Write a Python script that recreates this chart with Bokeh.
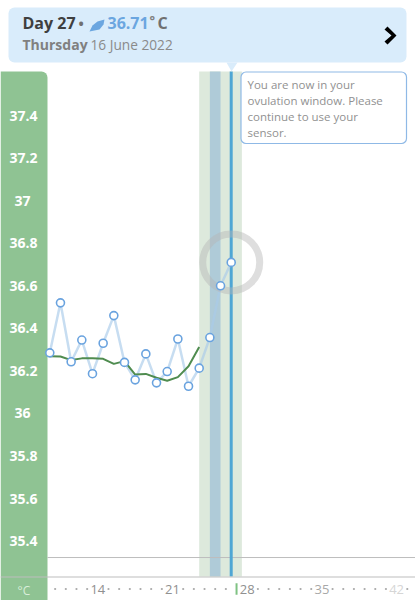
from bokeh.embed import file_html
from bokeh.resources import INLINE
from bokeh.plotting import figure
from bokeh.models import (BoxAnnotation, FixedTicker, Label,
                          LinearAxis, PolyAnnotation, Range1d)
from bokeh.core.properties import value

FONT = "Open Sans"
days = list(range(10, 28))
temps = [36.285, 36.52, 36.243, 36.345, 36.187, 36.33, 36.46, 36.24, 36.158,
         36.28, 36.144, 36.197, 36.35, 36.128, 36.213, 36.357, 36.60, 36.71]
trend_days = list(range(10, 25))
trend = [36.269, 36.268, 36.251, 36.259, 36.259, 36.257, 36.233, 36.246, 36.183,
         36.186, 36.168, 36.154, 36.171, 36.222, 36.312]
y_ticks = [35.4, 35.6, 35.8, 36.2, 36.4, 36.6, 36.8, 37.2, 37.4]
y_labels = ["35.4", "35.6", "35.8", "36.2", "36.4", "36.6", "36.8", "37.2", "37.4"]
y_whole_ticks = [36, 37]
y_whole_labels = ["36", "37"]
x_label_days = [14, 21, 28, 35, 42]
x_dot_days = [d for d in range(10, 44) if d not in x_label_days and d != 27]
fertile = (24, 28)
peak = (25, 26)
today = 27
floor_t = 35.234
limit_t = 35.323
row_t = 35.175
plot_top = 37.6075
panel_edge = 9.783

p = figure(width=415, height=600, output_backend="svg", toolbar_location=None,
           x_axis_type=None, y_axis_type=None,
           x_range=Range1d(5.38, 44.27), y_range=Range1d(35.121, 37.941),
           min_border_left=0, min_border_right=0, min_border_top=0, min_border_bottom=0)
p.outline_line_color = None
p.grid.visible = False
p.background_fill_color = "white"
p.border_fill_color = "white"

# left panel
p.add_layout(BoxAnnotation(left=0, right=47, top=71, bottom=600, left_units="canvas",
                           right_units="canvas", top_units="canvas", bottom_units="canvas",
                           fill_color="#8fc393", fill_alpha=1, line_color=None,
                           border_radius=(0, 6, 0, 0), level="underlay"))
for ticks, labels, standoff in [(y_ticks, y_labels, 10), (y_whole_ticks, y_whole_labels, 17)]:
    ax = LinearAxis(ticker=FixedTicker(ticks=ticks), fixed_location=panel_edge,
                    major_label_overrides={t: l for t, l in zip(ticks, labels)},
                    axis_line_color=None, major_tick_line_color=None, minor_tick_line_color=None,
                    major_tick_out=0, major_tick_in=0, minor_tick_out=0, minor_tick_in=0,
                    major_label_text_color="white", major_label_text_font=FONT,
                    major_label_text_font_style="bold", major_label_text_font_size="14px",
                    major_label_standoff=standoff)
    p.add_layout(ax, "left")

# windows
p.quad(left=[fertile[0]], right=[fertile[1]], bottom=[floor_t], top=[plot_top],
       fill_color="#dde9dc", line_color=None)
p.quad(left=[peak[0]], right=[peak[1]], bottom=[floor_t], top=[plot_top],
       fill_color="#afcbd8", line_color=None)
p.segment(x0=[panel_edge], x1=[44.27], y0=[limit_t], y1=[limit_t], line_color="#bdbdbd", line_width=1)
p.segment(x0=[today], x1=[today], y0=[floor_t], y1=[plot_top], line_color="#4fa6d4", line_width=3)

# series
p.line(days, temps, line_color="#a9cbea", line_alpha=0.65, line_width=2.5)
p.line(trend_days, trend, line_color="#4f8c4f", line_width=2)
p.scatter([days[-1]], [temps[-1]], size=57, fill_color=None, line_color="#b5b5b5",
          line_alpha=0.45, line_width=7)
p.scatter(days, temps, size=8, fill_color="white", line_color="#6aa3df", line_width=1.6)

# day row
p.scatter([d + 0.5 for d in x_dot_days], [row_t] * len(x_dot_days), size=2.2,
          fill_color="#a8a8a8", line_color=None)
p.segment(x0=[today + 0.5], x1=[today + 0.5], y0=[row_t - 0.027], y1=[row_t + 0.027],
          line_color="#7fc283", line_width=2)
lab_col = ["#909090", "#909090", "#909090", "#a8a8a8", "#d6d6d6"]
p.text(x=[d + 0.5 for d in x_label_days], y=[row_t] * 5, text=[str(d) for d in x_label_days],
       text_color=lab_col, text_font=value(FONT), text_font_size="13px",
       text_align="center", text_baseline="middle")


def box(l, r, t, b, fill, line=None, radius=0, level="annotation", lw=1):
    p.add_layout(BoxAnnotation(left=l, right=r, top=t, bottom=b, left_units="canvas",
                               right_units="canvas", top_units="canvas", bottom_units="canvas",
                               fill_color=fill, fill_alpha=1, line_color=line, line_width=lw,
                               line_alpha=1, border_radius=radius, level=level))


def poly(xs, ys, fill):
    p.add_layout(PolyAnnotation(xs=xs, ys=ys, xs_units="canvas", ys_units="canvas",
                                fill_color=fill, fill_alpha=1, line_color=None))


def lab(x, y, text, color, size, style="normal"):
    p.add_layout(Label(x=x, y=y, x_units="canvas", y_units="canvas", text=text,
                       text_color=color, text_font=FONT, text_font_size=size,
                       text_font_style=style, text_baseline="middle"))


# rules across panel
box(0, 415, 576, 577, "#bdbdbd")
lab(17, 590, "°C", "#d9eeda", "12px")

# header
box(8, 406, 7, 62, "#d9ecfb", radius=6)
poly([226, 237, 231], [62, 62, 71], "#d9ecfb")
lab(22, 22.5, "Day 27", "#3f3f3f", "16px", "bold")
lab(78, 23, "•", "#707070", "14px", "bold")
poly([89, 92, 97, 104, 103, 99, 94], [31, 25, 21, 19, 24, 29, 30], "#6ba6e0")
lab(107, 22.5, "36.71", "#6ba6e0", "16px", "bold")
lab(149, 19.5, "°", "#808080", "13px", "bold")
lab(157, 22.5, "C", "#707070", "16px", "bold")
lab(22, 43.5, "Thursday", "#808080", "14px", "bold")
lab(90, 43.5, "16 June 2022", "#8a8a8a", "13.7px")
poly([384, 387, 396, 387, 384, 391], [29, 26, 35, 44, 41, 35], "#000000")

# callout
box(240.5, 406, 71.5, 143, "#ffffff", line="#8fb9e6", radius=5, lw=1.2)
for yy, t in zip([83.5, 99.5, 115.5, 131.5], ["You are now in your", "ovulation window. Please",
                                              "continue to use your", "sensor."]):
    lab(247, yy, t, "#919191", "11.5px")

open("out.html", "w").write(file_html(p, INLINE))
